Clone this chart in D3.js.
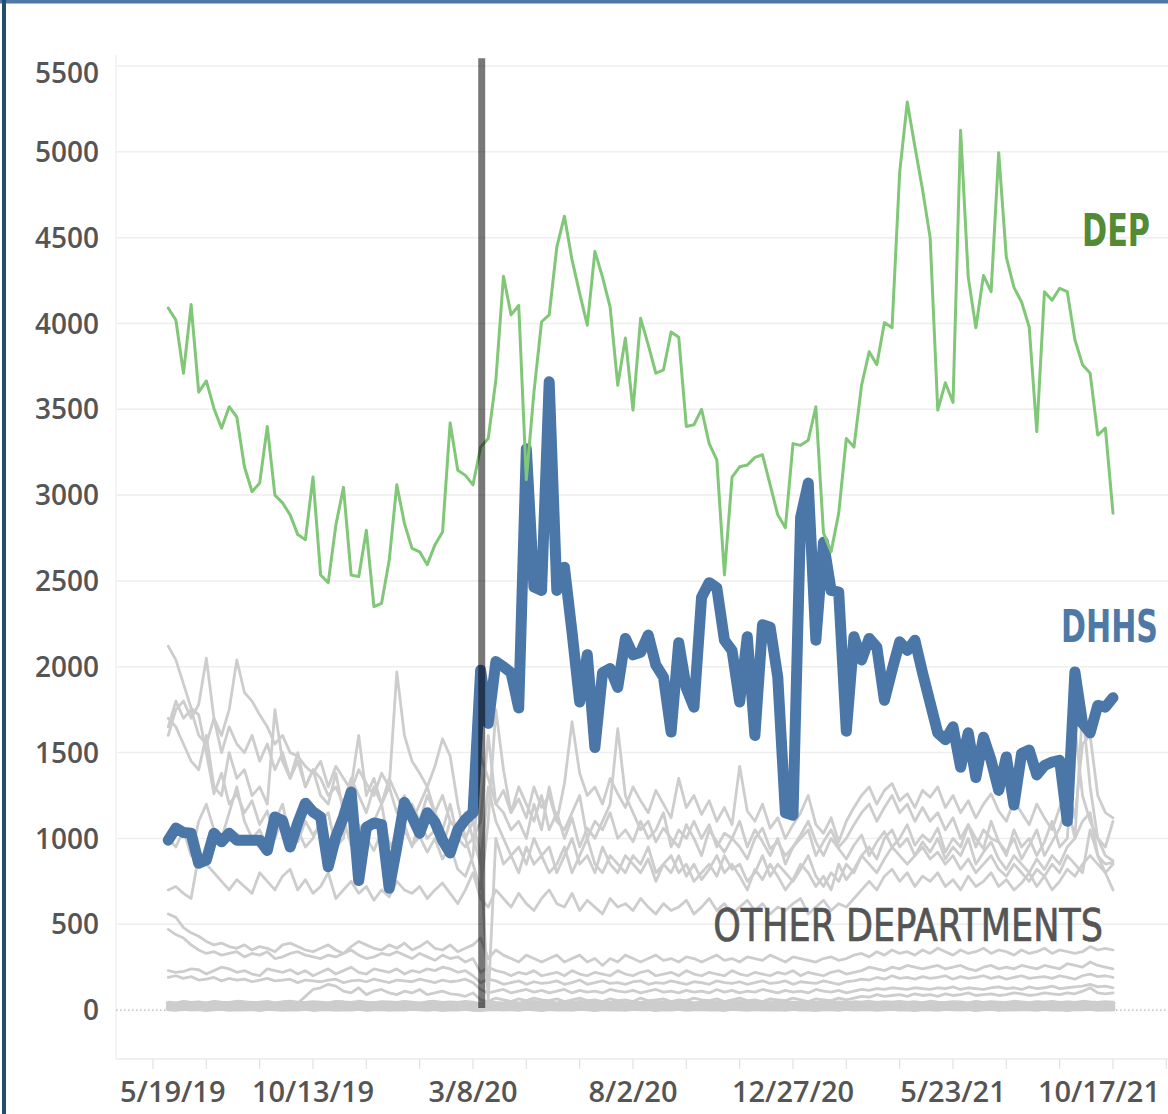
<!DOCTYPE html>
<html><head><meta charset="utf-8">
<script src="https://cdn.jsdelivr.net/npm/d3@7"></script>
<style>body{margin:0;background:#fff;} svg{display:block;}</style>
</head><body>
<svg id="chart" width="1168" height="1114"></svg>
<script>
// ---------- DATA ----------
const firstWeek = "2019-06-02";   // weekly observations (Sundays)
const weekCount = 125;
const covidDate = "2020-03-16";
const yTicks = [0,500,1000,1500,2000,2500,3000,3500,4000,4500,5000,5500];
const xTickLabels = ["5/19/19","10/13/19","3/8/20","8/2/20","12/27/20","5/23/21","10/17/21"];
const tickStepDays = 49;

const dep = [
 4090,4020,3710,4110,3600,3665,3505,3390,3515,3455,
 3165,3020,3070,3400,3000,2955,2885,2770,2740,3105,
 2535,2490,2825,3045,2535,2525,2795,2350,2370,2620,
 3060,2835,2690,2670,2595,2710,2785,3420,3145,3115,
 3060,3280,3330,3670,4275,4050,4105,3090,3600,4010,
 4050,4445,4625,4370,4175,3990,4420,4270,4095,3640,
 3915,3495,4030,3875,3710,3730,3950,3920,3400,3410,
 3500,3300,3205,2535,3105,3165,3175,3220,3235,3060,
 2885,2810,3300,3290,3320,3515,2780,2670,2895,3330,
 3280,3640,3835,3760,4005,3975,4880,5290,5030,4780,
 4500,3495,3655,3540,5125,4270,3975,4280,4185,4995,
 4385,4210,4125,3980,3370,4185,4135,4205,4185,3905,
 3760,3710,3350,3390,2895];

const dhhs = [
 990,1060,1035,1030,855,875,1030,980,1030,990,
 990,990,990,930,1125,1105,950,1090,1205,1155,
 1125,835,1010,1125,1270,755,1065,1090,1080,710,
 950,1210,1125,1030,1150,1095,990,915,1050,1110,
 1150,1980,1670,2030,2000,1965,1760,3270,2465,2445,
 3660,2445,2580,2200,1795,2070,1530,1965,1990,1880,
 2165,2070,2085,2185,2010,1940,1620,2140,1875,1765,
 2405,2490,2460,2155,2095,1795,2175,1600,2245,2230,
 1940,1150,1135,2870,3070,2155,2725,2445,2435,1625,
 2175,2040,2165,2115,1805,1980,2145,2095,2155,1965,
 1790,1615,1575,1650,1415,1615,1355,1590,1455,1280,
 1475,1195,1495,1515,1370,1425,1445,1455,1100,1970,
 1670,1615,1775,1765,1820];

const other1 = [
 2120,2040,1900,1760,1720,1500,1260,1380,1200,1260,
 1150,1220,1080,1160,1000,1120,1050,980,1100,1020,
 1080,950,1040,1120,960,1080,1000,930,1040,980,
 900,1050,960,1010,920,1000,880,960,820,780,
 900,1480,1350,1200,1280,1150,1230,1120,1300,1180,
 1250,1100,1320,1680,1380,1250,1300,1200,1350,1260,
 1180,1300,1220,1150,1280,1200,1120,1350,1180,1250,
 1140,1220,1100,1180,1080,1420,1160,1100,1200,1060,
 1120,1000,1080,1150,1250,1080,1030,1120,980,1100,
 1180,1250,1300,1200,1280,1320,1220,1260,1180,1280,
 1240,1300,1180,1250,1150,1220,1120,1200,1260,1160,
 1100,1220,1150,1080,1200,1120,1050,1180,1300,1120,
 1550,1600,1250,1150,1120];
const other2 = [
 1600,1750,1800,1700,1780,2050,1700,1600,1750,2040,
 1850,1800,1720,1650,1550,1600,1500,1480,1420,1380,
 1450,1300,1420,1350,1280,1400,1320,1250,1380,1300,
 1970,1600,1450,1380,1300,1420,1580,1480,1200,1000,
 850,700,1100,1750,1400,1150,1300,1200,1100,1250,
 1050,1150,1000,1120,950,1060,1000,1100,1200,1640,
 1250,1150,1050,1100,980,1060,1000,950,1080,1000,
 900,1050,980,920,1000,950,880,1000,1060,940,
 980,900,950,1020,1100,980,900,1000,940,880,
 960,1020,900,980,1040,950,1000,1080,960,1020,
 980,1060,920,1000,950,1080,1000,940,1100,980,
 920,1000,880,960,1050,900,980,1060,1200,1000,
 1750,1300,1000,900,870];
const other3 = [
 1700,1650,1550,1450,1400,1600,1300,1250,1500,1350,
 1400,1250,1300,1200,1750,1450,1350,1500,1300,1400,
 1250,1200,1380,1150,1300,1600,1250,1350,1200,1300,
 1150,1250,1100,1200,1300,1150,1250,1100,1050,1150,
 1000,1100,1600,1200,1150,1050,1100,1000,1200,1050,
 1300,1100,1050,1150,1250,1000,1100,1050,1150,1000,
 1050,980,1100,1000,1050,1150,950,1050,1000,1100,
 1000,1080,950,1030,1000,1100,950,1050,980,900,
 1000,850,950,1000,1050,900,980,1050,950,1000,
 1080,1150,1200,1100,1180,1250,1150,1200,1100,1180,
 1100,1150,1050,1120,1000,1080,950,1050,1000,980,
 900,1050,950,1000,900,980,1100,950,1000,1650,
 1250,1100,1000,950,1100];
const other4 = [
 1000,950,1050,900,1100,1200,1050,1000,1150,1300,
 1100,1000,1050,950,1100,1200,1000,1050,950,1000,
 1100,1150,950,1000,1300,1050,980,1100,1200,950,
 1000,1080,950,1100,1000,1050,950,1100,1050,1000,
 1100,900,60,1000,850,900,800,950,850,900,
 800,850,950,800,900,1000,850,800,900,850,
 800,900,850,950,800,850,900,800,850,750,
 800,850,780,900,820,850,750,800,900,780,
 850,800,750,820,900,780,720,800,750,850,
 800,900,850,800,880,950,900,850,900,950,
 880,920,850,900,820,880,800,850,900,820,
 780,850,800,750,820,780,850,800,900,850,
 800,1050,900,850,860];
const other5 = [
 1650,1800,1700,1750,1600,1550,1700,1500,1650,1550,
 1500,1600,1450,1550,1400,1500,1350,1450,1300,1400,
 1350,1250,1300,1200,1350,1250,1150,1300,1200,1350,
 1250,1150,1200,1100,1250,1150,1050,1200,1000,950,
 1000,850,1300,1100,1000,900,950,850,1000,900,
 950,800,900,1000,850,900,800,950,850,800,
 900,850,800,880,750,850,800,900,780,850,
 760,820,900,800,850,780,700,820,760,850,
 780,700,760,850,800,720,780,700,850,760,
 820,900,950,880,1000,1050,950,1000,900,980,
 920,1000,880,950,900,1000,850,920,980,880,
 820,900,850,800,880,820,900,850,950,1000,
 1100,1150,900,800,850];
const other6 = [
 700,720,680,650,900,850,800,750,700,760,
 720,680,800,750,700,780,820,700,760,680,
 720,800,650,700,750,680,720,640,700,660,
 750,700,680,720,650,700,740,680,620,700,
 800,650,600,700,650,600,680,620,580,650,
 700,620,600,680,580,640,600,560,650,600,
 620,580,650,600,560,620,580,600,640,560,
 600,650,580,620,560,600,640,580,620,560,
 600,580,620,650,560,600,640,580,620,600,
 650,700,750,700,780,820,750,800,720,780,
 750,800,720,760,700,780,720,750,800,720,
 760,700,740,800,720,780,700,750,820,780,
 850,900,850,800,700];
const other7 = [
 560,540,480,450,430,400,380,390,370,360,
 380,350,370,360,340,380,390,370,350,340,
 360,380,350,330,370,400,380,360,350,380,
 360,390,350,370,400,360,350,380,340,360,
 380,420,300,350,320,300,280,320,300,280,
 300,320,280,300,320,280,300,260,300,280,
 320,300,280,300,320,290,300,280,310,300,
 280,300,320,290,300,280,310,300,290,320,
 300,280,310,300,290,280,300,310,290,300,
 320,330,310,340,320,350,330,340,320,350,
 330,360,340,320,350,330,340,360,330,350,
 340,320,350,330,340,360,330,350,340,330,
 340,370,350,360,350];
const other8 = [
 470,440,420,380,350,330,340,320,330,340,
 310,330,320,340,300,310,330,340,320,310,
 300,320,310,330,350,320,300,310,330,320,
 340,320,300,330,310,290,320,300,310,280,
 300,220,250,230,220,200,220,210,230,200,
 210,220,200,230,210,200,220,210,200,230,
 210,200,220,230,200,210,220,200,230,210,
 200,220,210,200,230,210,200,220,210,200,
 220,210,230,200,220,210,200,220,230,210,
 220,230,250,240,230,250,240,260,250,240,
 250,260,240,250,260,240,230,250,260,240,
 250,240,260,250,240,260,250,240,270,260,
 250,280,260,250,240];
const other9 = [
 230,220,225,240,235,210,230,250,240,220,
 230,210,200,240,230,220,235,210,230,200,
 220,240,210,230,250,220,210,240,230,220,
 240,210,230,220,240,230,250,240,220,230,
 200,160,180,170,150,160,170,150,165,155,
 160,170,150,160,175,150,160,170,155,160,
 150,165,170,150,160,155,170,160,150,165,
 160,150,170,160,155,165,150,160,170,155,
 160,170,150,165,160,155,170,160,150,165,
 170,180,175,190,180,200,185,190,180,195,
 185,190,200,180,195,185,190,200,185,195,
 180,190,200,185,190,195,185,200,190,180,
 200,210,195,200,190];
const other10 = [
 190,200,185,195,175,180,190,170,185,175,
 180,165,175,185,170,175,180,160,175,170,
 165,175,180,160,170,175,165,180,170,160,
 175,170,165,180,170,160,175,165,170,180,
 160,120,100,110,120,100,110,120,105,115,
 100,110,120,100,115,105,110,100,120,110,
 105,115,100,110,120,105,110,100,115,105,
 110,100,120,105,115,100,110,105,120,110,
 100,115,105,110,100,120,110,105,115,100,
 110,120,115,125,120,130,125,120,130,125,
 120,130,125,135,120,130,125,120,130,135,
 125,130,120,135,125,130,140,125,130,135,
 140,150,135,140,130];
const other11 = [
 20,25,15,30,20,25,15,20,30,25,
 20,30,25,20,30,25,35,40,80,120,
 130,150,140,110,100,130,90,110,120,100,
 90,110,100,120,90,100,110,95,90,80,
 100,60,50,70,60,50,65,55,70,60,
 55,65,50,60,70,55,60,50,65,55,
 60,50,70,55,60,65,50,60,55,70,
 60,55,65,50,60,70,55,60,50,65,
 60,55,70,60,50,65,60,55,70,60,
 70,80,75,90,80,85,90,80,95,85,
 90,80,95,85,90,100,85,90,95,85,
 90,100,95,85,90,100,95,90,100,95,
 110,130,100,95,100];
const other12 = [
 40,35,45,38,42,36,44,40,38,45,
 42,38,40,44,36,42,45,40,38,43,
 40,36,44,42,38,45,40,37,43,41,
 38,44,40,36,42,45,39,41,38,44,
 40,30,45,38,35,42,36,40,44,38,
 41,36,43,39,45,37,40,42,38,44,
 36,41,39,45,37,42,40,38,44,36,
 41,39,43,37,40,45,38,42,36,41,
 44,38,40,37,43,39,45,36,41,38,
 42,40,45,38,43,40,44,39,42,37,
 45,40,38,43,41,36,44,39,42,40,
 38,45,41,37,43,40,44,38,42,39,
 45,41,38,43,40];
const other13 = [
 20,25,18,22,28,20,24,19,26,22,
 18,25,21,27,20,23,19,25,22,20,
 26,19,23,21,25,18,24,22,20,27,
 21,19,25,23,18,22,26,20,24,19,
 22,15,20,25,18,23,21,19,24,20,
 22,26,19,23,21,25,18,22,24,20,
 19,23,25,21,18,24,22,20,26,19,
 23,21,25,18,22,20,24,19,23,21,
 25,20,18,24,22,19,23,21,25,20,
 22,24,19,23,21,25,20,22,24,19,
 21,23,25,20,22,18,24,21,23,20,
 25,19,22,24,20,23,21,25,19,22,
 24,20,23,21,22];
const other14 = [
 8,5,10,6,9,4,7,11,5,8,
 6,9,3,10,7,5,8,6,11,4,
 7,9,5,8,6,10,4,7,9,5,
 8,6,10,7,5,9,4,8,6,10,
 5,3,7,9,6,8,5,10,7,4,
 9,6,8,5,10,7,4,9,6,8,
 5,10,7,9,4,8,6,10,5,7,
 9,6,8,4,10,7,5,9,6,8,
 7,5,10,6,8,4,9,7,5,10,
 6,8,9,5,7,10,6,8,4,9,
 7,5,10,8,6,9,4,7,10,5,
 8,6,9,7,5,10,6,8,4,9,
 7,10,5,8,6];
const otherDepartments = [other1,other2,other3,other4,other5,other6,other7,
  other8,other9,other10,other11];
const otherNearZero = [other12,other13,other14];

// ---------- LAYOUT ----------
const svg = d3.select("#chart");
const W = 1168, H = 1114;
const pane = {left:116, right:1168, top:55, bottom:1059};
const parseDay = d3.utcParse("%Y-%m-%d");
const parseLabel = s => { const [m,d,yy] = s.split("/").map(Number); return new Date(Date.UTC(2000+yy, m-1, d)); };

const x = d3.scaleUtc()
  .domain([parseLabel(xTickLabels[0]), parseLabel(xTickLabels[xTickLabels.length-1])])
  .range([153, 1113]);
const y = d3.scaleLinear().domain([-285, 5564]).range([pane.bottom, pane.top]);
const weeks = d3.range(weekCount).map(i => d3.utcDay.offset(parseDay(firstWeek), 7*i));

svg.append("rect").attr("width", W).attr("height", H).attr("fill", "#fff");

// frame
svg.append("rect").attr("x",0).attr("y",0).attr("width",W).attr("height",3.5).attr("fill","#4f77a7");
svg.append("rect").attr("x",2).attr("y",0).attr("width",4).attr("height",H).attr("fill","#234f6f");

// gridlines
const grid = svg.append("g");
yTicks.filter(v => v !== 0).forEach(v => {
  grid.append("line").attr("x1",pane.left).attr("x2",pane.right)
    .attr("y1",y(v)).attr("y2",y(v)).attr("stroke","#eeeeee").attr("stroke-width",1.5);
});
grid.append("line").attr("x1",pane.left).attr("x2",pane.left)
  .attr("y1",pane.top).attr("y2",pane.bottom).attr("stroke","#f0f0f0").attr("stroke-width",1.5);
grid.append("line").attr("x1",pane.left).attr("x2",pane.right)
  .attr("y1",pane.bottom).attr("y2",pane.bottom).attr("stroke","#ebebeb").attr("stroke-width",1.5);
grid.append("line").attr("x1",pane.left).attr("x2",pane.right)
  .attr("y1",y(0)).attr("y2",y(0)).attr("stroke","#b0b0b0").attr("stroke-width",1.2)
  .attr("stroke-dasharray","1.5,2.5");

// x ticks every 7 weeks
const tickDates = [];
for (let d = parseLabel(xTickLabels[0]); x(d) <= pane.right; d = d3.utcDay.offset(d, tickStepDays)) tickDates.push(d);
tickDates.forEach(d => {
  grid.append("line").attr("x1",x(d)).attr("x2",x(d)).attr("y1",pane.bottom).attr("y2",pane.bottom+10)
    .attr("stroke","#e2e2e2").attr("stroke-width",1.2);
});

// clip
svg.append("clipPath").attr("id","paneClip").append("rect")
  .attr("x",pane.left).attr("y",pane.top).attr("width",pane.right-pane.left).attr("height",pane.bottom-pane.top);
const plot = svg.append("g").attr("clip-path","url(#paneClip)");

const line = d3.line().x((d,i) => x(weeks[i])).y(d => y(d));

plot.selectAll(".zero").data(otherNearZero).join("path")
  .attr("d", line).attr("fill","none").attr("stroke","#cdcdcd").attr("stroke-width",5)
  .attr("stroke-linejoin","round").attr("stroke-linecap","round");

plot.selectAll(".other").data(otherDepartments).join("path")
  .attr("d", line).attr("fill","none").attr("stroke","#cdcdcd").attr("stroke-width",2.8)
  .attr("stroke-linejoin","round").attr("stroke-linecap","round");

plot.append("path").datum(dhhs).attr("d", line).attr("fill","none")
  .attr("stroke","#4a76a8").attr("stroke-width",11).attr("stroke-linejoin","round").attr("stroke-linecap","round");

plot.append("path").datum(dep).attr("d", line).attr("fill","none")
  .attr("stroke","#80c777").attr("stroke-width",3).attr("stroke-linejoin","round").attr("stroke-linecap","round");

// covid reference bar
const cx = x(parseDay(covidDate));
svg.append("line").attr("x1",cx).attr("x2",cx).attr("y1",y(5545)).attr("y2",y(12))
  .attr("stroke","#000").attr("stroke-opacity",0.53).attr("stroke-width",7);

// y axis labels
const axisFont = "'Open Sans', 'Liberation Sans', sans-serif";
yTicks.forEach(v => {
  const cy = Math.max(y(v), pane.top + 18);
  svg.append("text").attr("x",99).attr("y",cy).attr("dy","0.36em")
    .attr("text-anchor","end").attr("font-family",axisFont).attr("font-weight",600)
    .attr("font-size",28).attr("fill","#555").text(v);
});

// x axis labels, kept inside the view
xTickLabels.forEach(s => {
  const t = svg.append("text").attr("y",1102).attr("font-family",axisFont).attr("font-weight",600)
    .attr("font-size",29).attr("fill","#555").text(s);
  const w = t.node().getComputedTextLength();
  let left = x(parseLabel(s)) - w/2;
  left = Math.max(120, Math.min(1160 - w, left));
  t.attr("x", left);
});

// series labels: condensed horizontally with a transform, right edge fixed
const labelFont = "'Liberation Sans Narrow', 'DejaVu Sans Condensed', 'Roboto', sans-serif";
function seriesLabel(txt, rightX, base, len, size, color, weight, strokeW) {
  const g = svg.append("g");
  const t = g.append("text").attr("x",0).attr("y",0).attr("text-anchor","end")
    .attr("font-family",labelFont).attr("font-weight",weight).attr("font-size",size).attr("fill",color)
    .text(txt);
  if (strokeW) t.attr("stroke",color).attr("stroke-width",strokeW);
  const natural = t.node().getComputedTextLength();
  const sx = Math.min(1, len / natural);
  g.attr("transform", `translate(${rightX},${base}) scale(${sx},1)`);
}
seriesLabel("DEP", 1150, 246, 68, 44, "#528a35", "bold", 0);
seriesLabel("DHHS", 1158, 642, 97, 44, "#4e79a7", "bold", 0);
seriesLabel("OTHER DEPARTMENTS", 1103, 941, 390, 45, "#555555", "normal", 0.7);
</script>
</body></html>
